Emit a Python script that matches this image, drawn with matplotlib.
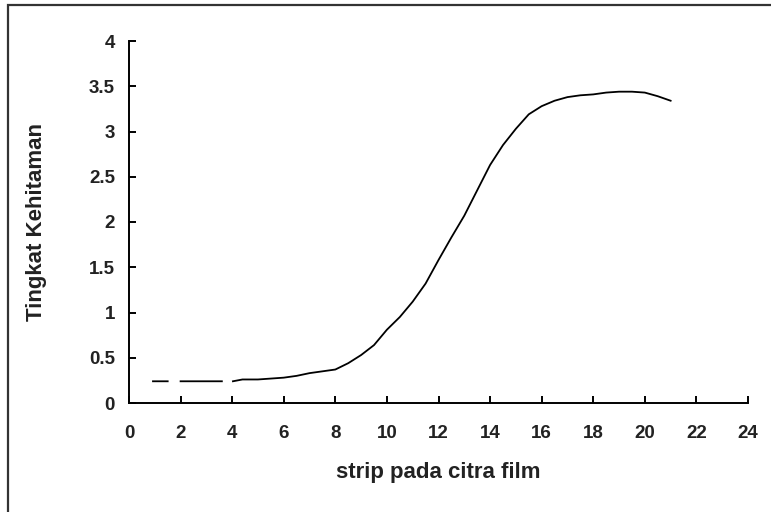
import numpy as np
import matplotlib
matplotlib.use("Agg")
import matplotlib.pyplot as plt
from matplotlib.patches import Rectangle

# data (NaN marks gaps in the line)
strip = [0.93, 1.5, 1.75, 2.0, 3.6, 3.8, 4.03, 4.4, 5.0, 6.0, 6.5, 7.0, 7.5, 8.0, 8.5,
         9.0, 9.5, 10.0, 10.5, 11.0, 11.5, 12.0, 12.5, 13.0, 13.5, 14.0, 14.5, 15.0,
         15.5, 16.0, 16.5, 17.0, 17.5, 18.0, 18.5, 19.0, 19.5, 20.0, 20.5, 21.0]
kehitaman = [0.24, 0.24, np.nan, 0.24, 0.24, np.nan, 0.24, 0.26, 0.26, 0.28, 0.30, 0.33,
             0.35, 0.37, 0.44, 0.53, 0.64, 0.81, 0.95, 1.12, 1.32, 1.58, 1.83, 2.07,
             2.35, 2.63, 2.85, 3.03, 3.19, 3.28, 3.34, 3.38, 3.40, 3.41, 3.43, 3.44,
             3.44, 3.43, 3.39, 3.34]
xticks = list(range(0, 25, 2))
yticks = [0, 0.5, 1, 1.5, 2, 2.5, 3, 3.5, 4]
ytick_labels = ["0", "0.5", "1", "1.5", "2", "2.5", "3", "3.5", "4"]

plt.rcParams['font.family'] = ['Liberation Sans', 'DejaVu Sans']

fig = plt.figure(figsize=(7.71, 5.12), dpi=100)
ax = fig.add_axes([129/771, 1-403/512, (748-129)/771, (403-41)/512])

ax.plot(strip, kehitaman, color='black', lw=1.3)

ax.set_xlim(0, 24)
ax.set_ylim(0, 4)
ax.set_xticks(xticks)
ax.set_xticklabels([str(t) for t in xticks])
ax.set_yticks(yticks)
ax.set_yticklabels(ytick_labels)

for s in ['top', 'right']:
    ax.spines[s].set_visible(False)
for s in ['left', 'bottom']:
    ax.spines[s].set_linewidth(1.4)
    ax.spines[s].set_color('black')

ax.tick_params(direction='in', length=5, width=1.4, labelsize=13.5)
ax.tick_params(axis='x', pad=16)
ax.tick_params(axis='y', pad=10)
for lab in ax.get_xticklabels() + ax.get_yticklabels():
    lab.set_fontweight('bold')
    lab.set_color('#222222')

ax.set_xlabel('strip pada citra film', fontsize=16, fontweight='bold', color='#222222', labelpad=14)
ax.set_ylabel('Tingkat Kehitaman', fontsize=16, fontweight='bold', color='#222222', labelpad=30)

# outer frame (right and bottom edges lie beyond the image)
fig.patches.append(Rectangle((8/771, -0.5), 2.0, 0.5 + 1 - 4.5/512,
                             transform=fig.transFigure, fill=False,
                             edgecolor='#333333', lw=1.6, clip_on=False))

fig.savefig('out.png', dpi=100)
